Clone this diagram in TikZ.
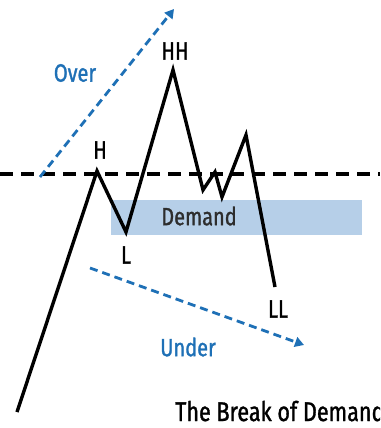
\documentclass[tikz,border=0pt]{standalone}
\usepackage{fontspec}
\setmainfont{Fira Sans}[FakeStretch=0.8, FakeBold=1.2]
\usetikzlibrary{arrows.meta}
\definecolor{arrowblue}{RGB}{30,112,182}
\definecolor{demandblue}{RGB}{182,207,232}
\definecolor{demandtext}{RGB}{45,45,45}
\tikzset{
  price/.style={line width=3.4pt, line join=miter, black},
  level/.style={line width=3.6pt, black, dash pattern=on 13pt off 8pt},
  move/.style={line width=2.8pt, arrowblue, dash pattern=on 8pt off 5pt, -{Triangle[length=9pt,width=10pt]}},
  lbl/.style={font=\fontsize{25}{25}\selectfont, text=black, inner sep=0pt},
  bluelbl/.style={font=\fontsize{25}{25}\selectfont, text=arrowblue, inner sep=0pt},
  title/.style={font=\fontsize{27}{27}\selectfont, text=black, inner sep=0pt, anchor=base west}
}
\begin{document}
\begin{tikzpicture}[x=1pt,y=-1pt]
\useasboundingbox (0,0) rectangle (380,428);
\clip (0,0) rectangle (380,428);
\fill[white] (0,0) rectangle (380,428);
% demand zone
\node[fill=demandblue, minimum width=251pt, minimum height=35pt, inner sep=0pt, anchor=north west] (zone) at (111,200) {};
\node[lbl, text=demandtext] (demand) at (199,216) {Demand};
% level line
\coordinate (lvlA) at (0,174);
\coordinate (lvlB) at (380,174);
\draw[level] (lvlA) -- (lvlB);
% price path
\coordinate (p0) at (17,412);
\coordinate (pH) at (97,171);
\coordinate (pL) at (126,232);
\coordinate (pHH) at (173,70);
\coordinate (p4) at (203,190);
\coordinate (p5) at (215,172);
\coordinate (p6) at (222,197);
\coordinate (p7) at (246,135);
\coordinate (pLL) at (275,287);
\draw[price] (p0) -- (pH) -- (pL) -- (pHH) -- (p4) -- (p5) -- (p6) -- (p7) -- (pLL);
% labels
\node[lbl] (H) at (100,150) {H};
\node[lbl] (HH) at (175,51) {HH};
\node[lbl] (L) at (126,255) {L};
\node[lbl] (LL) at (278,309) {LL};
% over / under
\coordinate (o1) at (40,177);
\coordinate (o2) at (174,9);
\draw[move] (o1) -- (o2);
\node[bluelbl] (over) at (75,73) {Over};
\coordinate (u1) at (90,268);
\coordinate (u2) at (304,345);
\draw[move] (u1) -- (u2);
\node[bluelbl] (under) at (188,347) {Under};
% title
\node[title] (ttl) at (175,421) {The Break of Demand};
\end{tikzpicture}
\end{document}
